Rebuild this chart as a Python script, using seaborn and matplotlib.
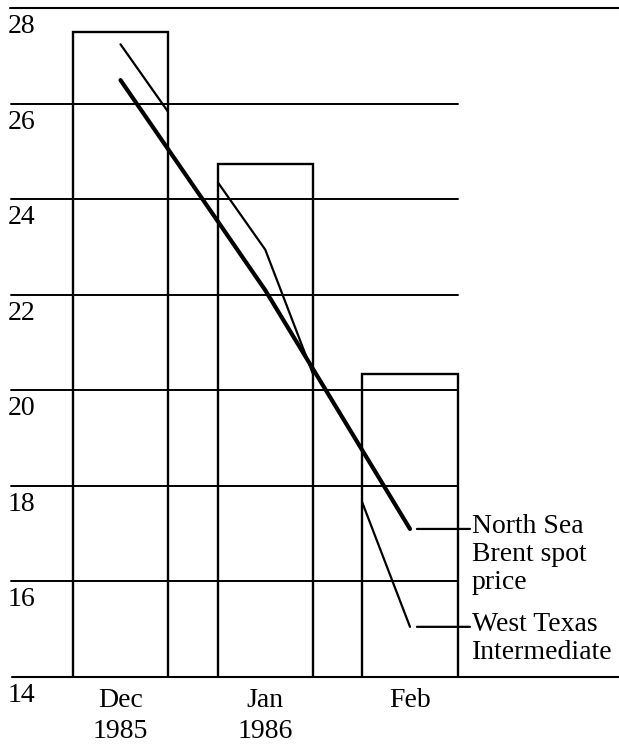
import matplotlib.pyplot as plt
import seaborn as sns
import pandas as pd

# values ($ per barrel)
months = ['Dec\n1985', 'Jan\n1986', 'Feb']
bar_values = [27.5, 24.75, 20.35]
brent = [26.5, 22.1, 17.1]
wti = [27.25, 22.95, 15.05]
y_ticks = [14, 16, 18, 20, 22, 24, 26, 28]
brent_label = 'North Sea\nBrent spot\nprice'
wti_label = 'West Texas\nIntermediate'

sns.set_style('white')
plt.rcParams['font.family'] = ['Liberation Serif', 'DejaVu Serif']
plt.rcParams['text.color'] = 'black'
plt.rcParams['xtick.color'] = 'black'
FS = 20

fig = plt.figure(figsize=(6.19, 7.44), dpi=100)
ax = fig.add_axes([0, 0.0901, 1, 0.8985])

df = pd.DataFrame({'month': months, 'value': bar_values})
sns.barplot(data=df, x='month', y='value', ax=ax, fill=False, color='black',
            width=0.658, linewidth=1.7, errorbar=None)
for p in ax.patches:
    p.set_edgecolor('black')
    p.set_linewidth(1.7)

x = list(range(len(months)))

# Brent: thick line
ax.plot(x, brent, color='black', lw=3.0, solid_capstyle='round', zorder=4)

# WTI: thin line, only visible inside the bars (white on black in the original print)
for p in ax.patches:
    line, = ax.plot(x, wti, color='black', lw=1.6, zorder=4)
    line.set_clip_path(p)

ax.set_xlim(-0.8325, 3.444)
ax.set_ylim(14, 28)

# horizontal rules
for v in y_ticks[1:-1]:
    ax.axhline(v, xmin=11 / 619, xmax=458 / 619, color='black', lw=1.4, zorder=1)
ax.axhline(28, xmin=10 / 619, xmax=1, color='black', lw=1.5, clip_on=False)
ax.axhline(14, xmin=12 / 619, xmax=1, color='black', lw=1.5, clip_on=False)

for s in ax.spines.values():
    s.set_visible(False)

ax.set_yticks([])
ax.set_xlabel('')
ax.set_ylabel('')
ax.tick_params(axis='x', length=0, pad=8, labelsize=FS, labelcolor='black')
for t in ax.get_xticklabels():
    t.set_linespacing(1.3)

# y labels sit just under each rule
for v in y_ticks:
    ax.annotate(str(v), xy=(0.013, v), xycoords=ax.get_yaxis_transform(),
                xytext=(0, -6), textcoords='offset pixels',
                ha='left', va='top', fontsize=FS)

# labels with leader lines
for vals, label in [(brent, brent_label), (wti, wti_label)]:
    end = (x[-1], vals[-1])
    ax.annotate('', xy=end, xytext=(60, 0), textcoords='offset pixels',
                arrowprops=dict(arrowstyle='-', lw=1.6, color='black',
                                shrinkA=0, shrinkB=5))
    ax.annotate(label, xy=end, xytext=(62, 15), textcoords='offset pixels',
                ha='left', va='top', fontsize=FS, linespacing=1.15)

fig.savefig('out.png', dpi=100)
